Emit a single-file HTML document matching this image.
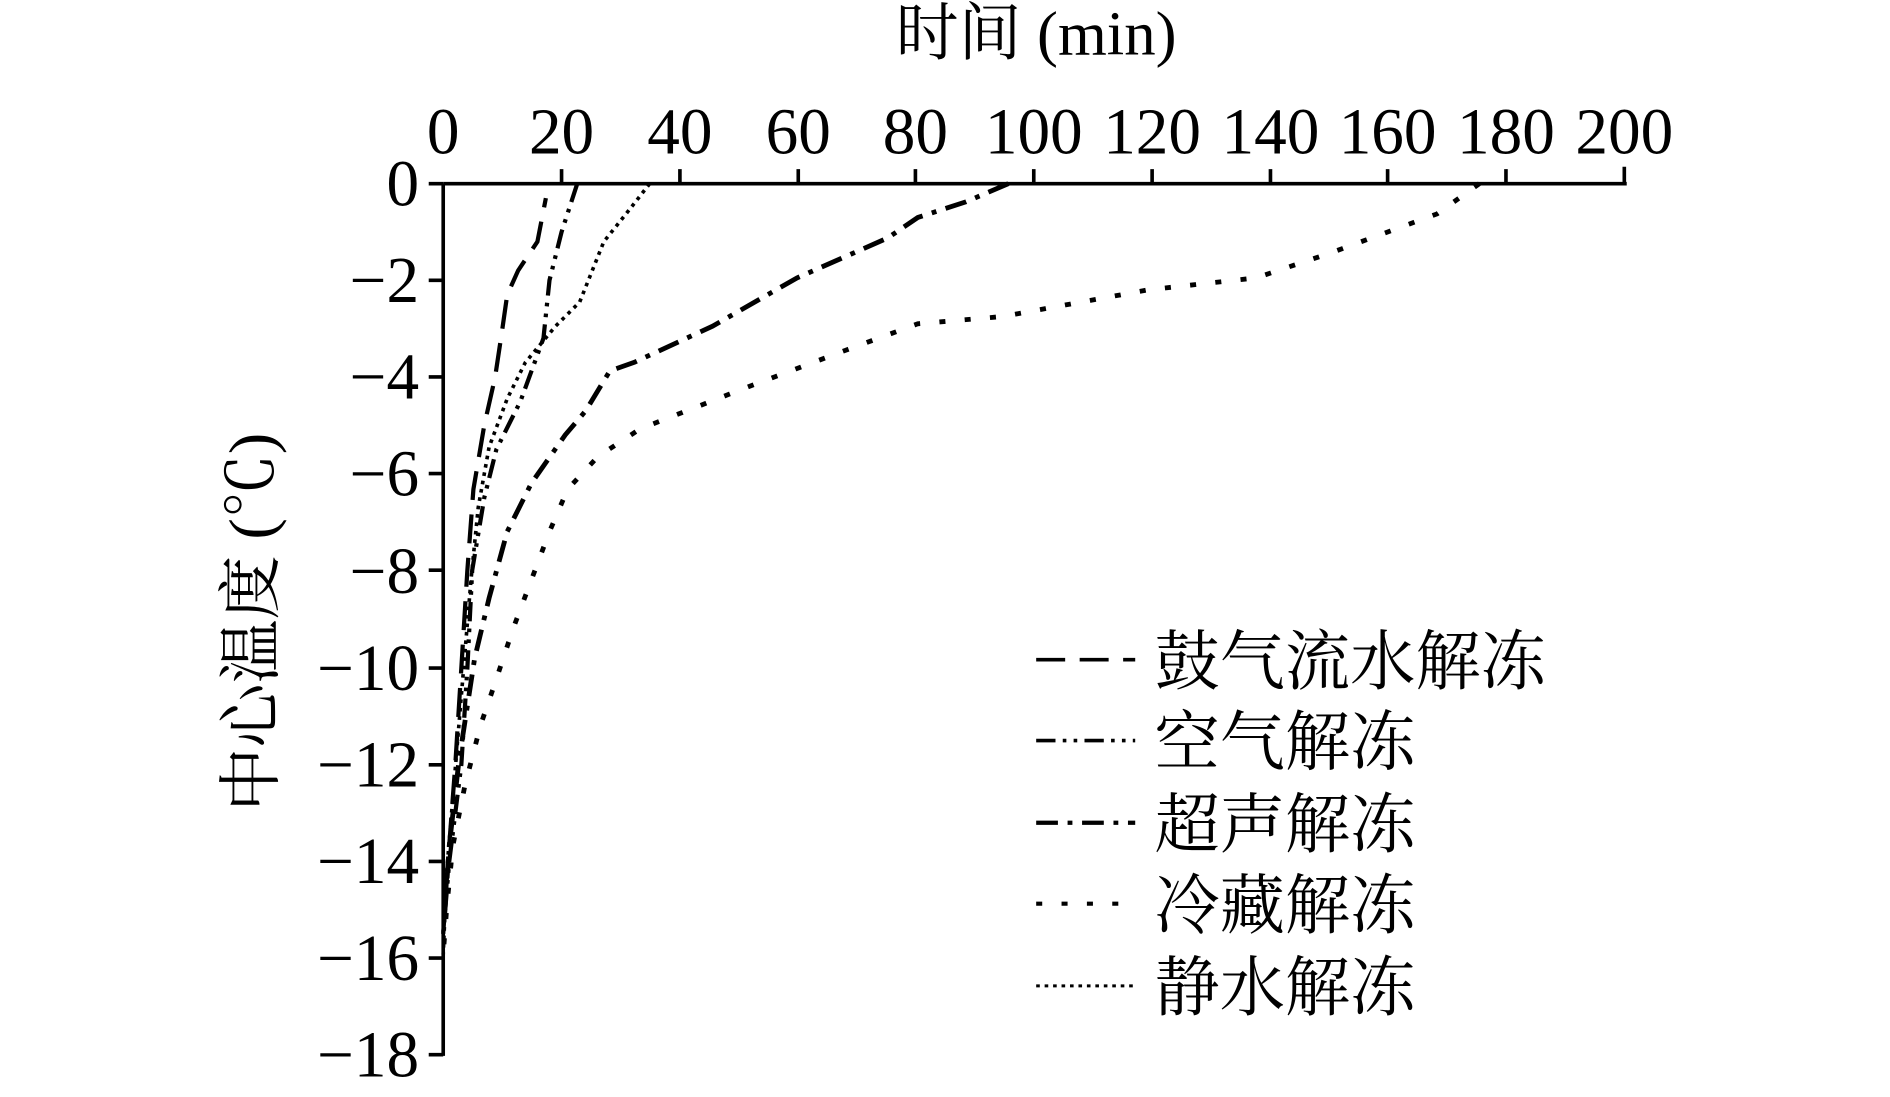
<!DOCTYPE html>
<html><head><meta charset="utf-8"><style>
html,body{margin:0;padding:0;background:#fff;width:1890px;height:1097px;overflow:hidden}
svg{display:block}
text{font-family:"Liberation Serif","Noto Serif CJK SC",serif;fill:#000}
</style></head><body>
<svg width="1890" height="1097" viewBox="0 0 1565 908" preserveAspectRatio="none" xmlns="http://www.w3.org/2000/svg">
<text x="858" y="45" font-size="52" text-anchor="middle">时间 (min)</text>
<g font-size="54" text-anchor="middle">
<text x="367" y="127">0</text><text x="465" y="127">20</text><text x="563" y="127">40</text><text x="661" y="127">60</text><text x="758" y="127">80</text><text x="856" y="127">100</text><text x="954" y="127">120</text><text x="1052" y="127">140</text><text x="1149" y="127">160</text><text x="1247" y="127">180</text><text x="1345" y="127">200</text>
</g>
<g font-size="54" text-anchor="end">
<text x="347" y="170">0</text><text x="347" y="250">−2</text><text x="347" y="330">−4</text><text x="347" y="410">−6</text><text x="347" y="491">−8</text><text x="347" y="571">−10</text><text x="347" y="651">−12</text><text x="347" y="731">−14</text><text x="347" y="811">−16</text><text x="347" y="891">−18</text>
</g>
<text transform="translate(226,515) rotate(-90)" font-size="53" text-anchor="middle">中心温度 (℃)</text>
<g stroke="#000" stroke-width="3" fill="none">
<path d="M367,152H1347M367,152V874"/>
<path d="M465,152v-12M563,152v-12M661,152v-12M758,152v-12M856,152v-12M954,152v-12M1052,152v-12M1149,152v-12M1247,152v-12M1345,152v-14"/>
<path d="M367,152h-12M367,232h-12M367,312h-12M367,392h-12M367,472h-12M367,553h-12M367,633h-12M367,713h-12M367,793h-12M367,873h-12"/>
</g>
<g fill="none" stroke="#000" stroke-linecap="butt">
<polyline stroke-width="3.5" stroke-dasharray="24 12" points="367,773 371,713 377,633 382,553 387,472 392,405 401,352 410,312 416,272 420,244 429,224 445,200 452,164"/>
<polyline stroke-width="3.5" stroke-dasharray="16 6 3 6 3 6" points="478,152 465,192 455,232 450,280 431,332 411,372 401,412 391,472 387,553 382,633 372,713 367,773"/>
<polyline stroke-width="4" stroke-dasharray="18 8 4 8" points="835,152 800,167 760,180 735,197 660,230 590,270 525,300 505,307 485,340 468,360 440,400 420,440 405,495 393,545 380,630 372,700 368,760"/>
<polyline stroke-width="4" stroke-dasharray="5 16" points="1225,152 1190,177 1100,210 1040,230 950,240 830,262 760,268 700,290 620,320 530,355 495,378 470,405 455,440 440,480 425,520 410,565 398,600 385,650 375,700 370,750 367,790"/>
<polyline stroke-width="3" stroke-dasharray="3 4" points="538,152 520,175 500,200 480,250 460,270 435,300 420,330 405,370 396,420 390,480 385,540 380,600 375,660 370,720 367,790"/>
<line stroke-width="3" stroke-dasharray="24 12" x1="858" y1="546" x2="940" y2="546"/>
<line stroke-width="3" stroke-dasharray="16 6 3 6 3 6" x1="858" y1="613" x2="940" y2="613"/>
<line stroke-width="3.5" stroke-dasharray="18 8 4 8" x1="858" y1="681" x2="940" y2="681"/>
<line stroke-width="3.5" stroke-dasharray="5 16" x1="858" y1="748" x2="940" y2="748"/>
<line stroke-width="2.5" stroke-dasharray="3 4" x1="858" y1="816" x2="940" y2="816"/>
</g>
<g font-size="54">
<text x="956" y="566">鼓气流水解冻</text>
<text x="956" y="633">空气解冻</text>
<text x="956" y="701">超声解冻</text>
<text x="956" y="768">冷藏解冻</text>
<text x="956" y="836">静水解冻</text>
</g>
</svg>
</body></html>
